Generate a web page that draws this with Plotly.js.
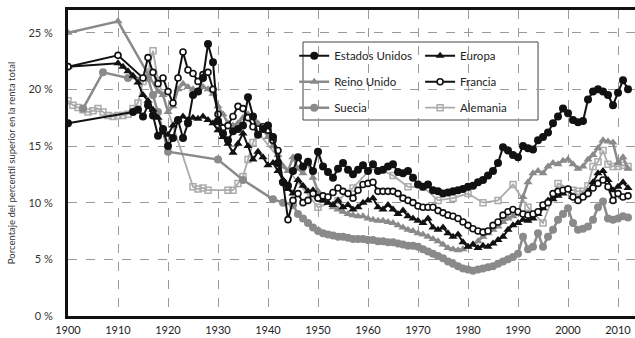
<!DOCTYPE html>
<html>
<head>
<meta charset="utf-8">
<script src="https://cdn.plot.ly/plotly-3.0.1.min.js"></script>
<style>html,body{margin:0;padding:0;background:#fff;}#chart{width:635px;height:338px;}</style>
</head>
<body>
<div id="chart"></div>
<script>
// ---- Data (top 1% income share, %) ----
const usYears = [1900,1913,1914,1915,1916,1917,1918,1919,1920,1921,1922,1923,1924,1925,1926,1927,1928,1929,1930,1931,1932,1933,1934,1935,1936,1937,1938,1939,1940,1941,1942,1943,1944,1945,1946,1947,1948,1949,1950,1951,1952,1953,1954,1955,1956,1957,1958,1959,1960,1961,1962,1963,1964,1965,1966,1967,1968,1969,1970,1971,1972,1973,1974,1975,1976,1977,1978,1979,1980,1981,1982,1983,1984,1985,1986,1987,1988,1989,1990,1991,1992,1993,1994,1995,1996,1997,1998,1999,2000,2001,2002,2003,2004,2005,2006,2007,2008,2009,2010,2011,2012];
const usShare = [17.0,18.0,18.2,17.6,18.6,17.7,15.9,16.5,15.0,15.7,17.3,15.7,17.0,19.5,19.8,21.0,24.0,22.4,17.2,16.1,15.5,16.3,16.5,16.8,19.3,17.6,16.0,16.5,16.8,15.8,13.5,11.8,11.5,12.8,14.0,13.2,13.6,12.8,14.5,13.2,12.7,12.2,13.0,13.5,12.9,12.5,12.9,13.3,12.8,13.4,12.8,12.9,13.2,13.4,12.7,12.6,12.8,12.2,11.6,11.4,11.6,11.1,11.0,10.8,10.9,11.0,11.1,11.2,11.4,11.5,11.8,12.0,12.4,12.8,13.5,14.9,14.6,14.2,14.0,15.0,14.8,14.7,15.5,15.8,16.2,17.0,17.6,18.3,17.9,17.3,17.1,17.2,19.1,19.8,20.0,19.8,19.5,18.6,19.7,20.8,20.0];

const euYears = [1900,1910,1911,1912,1913,1914,1915,1916,1917,1918,1919,1920,1921,1922,1923,1924,1925,1926,1927,1928,1929,1930,1931,1932,1933,1934,1935,1936,1937,1938,1939,1940,1941,1942,1943,1944,1945,1946,1947,1948,1949,1950,1951,1952,1953,1954,1955,1956,1957,1958,1959,1960,1961,1962,1963,1964,1965,1966,1967,1968,1969,1970,1971,1972,1973,1974,1975,1976,1977,1978,1979,1980,1981,1982,1983,1984,1985,1986,1987,1988,1989,1990,1991,1992,1993,1994,1995,1996,1997,1998,1999,2000,2001,2002,2003,2004,2005,2006,2007,2008,2009,2010,2011,2012];
const euShare = [22.0,22.3,22.0,21.6,21.2,20.6,19.5,19.0,18.2,17.5,16.2,16.0,16.8,17.3,17.6,17.3,17.5,17.4,17.6,17.3,17.0,16.4,15.8,15.2,14.4,15.2,16.1,15.0,13.8,14.5,14.0,13.3,13.5,12.8,12.0,11.2,10.8,12.0,11.5,11.0,11.1,10.5,10.2,10.0,9.8,10.2,9.6,9.8,9.4,9.6,10.0,10.2,10.4,9.6,9.4,9.8,9.4,9.0,9.3,8.8,8.6,8.4,8.2,8.6,7.8,7.6,7.8,7.3,7.0,7.2,6.5,6.1,6.3,6.0,6.2,6.1,6.4,6.7,7.0,7.6,8.0,8.2,8.5,8.4,8.6,9.0,9.5,10.2,10.3,10.6,10.8,11.2,10.5,10.3,10.6,11.0,11.8,12.6,12.8,12.0,11.1,11.4,11.8,11.3];

const frYears = [1900,1910,1915,1916,1917,1918,1919,1920,1921,1922,1923,1924,1925,1926,1927,1928,1929,1930,1931,1932,1933,1934,1935,1936,1937,1938,1939,1940,1941,1942,1943,1944,1945,1946,1947,1948,1949,1950,1951,1952,1953,1954,1955,1956,1957,1958,1959,1960,1961,1962,1963,1964,1965,1966,1967,1968,1969,1970,1971,1972,1973,1974,1975,1976,1977,1978,1979,1980,1981,1982,1983,1984,1985,1986,1987,1988,1989,1990,1991,1992,1993,1994,1995,1996,1997,1998,1999,2000,2001,2002,2003,2004,2005,2006,2007,2008,2009,2010,2011,2012];
const frShare = [22.0,23.0,21.0,22.8,21.5,20.5,21.0,19.8,18.8,21.0,23.3,21.7,21.4,20.7,21.3,21.5,20.0,17.8,16.6,16.8,17.6,18.5,18.3,17.5,16.7,16.5,16.7,16.4,15.5,14.6,11.8,8.5,10.2,10.8,10.0,10.2,10.8,10.4,10.6,10.5,10.9,11.3,11.0,10.8,10.4,11.1,11.6,11.7,11.8,11.0,11.0,11.0,11.0,10.8,10.4,10.2,10.0,9.7,9.6,9.6,9.6,9.3,9.1,8.9,8.8,8.6,8.3,8.0,7.7,7.5,7.4,7.5,8.0,8.3,8.9,9.2,9.4,9.2,9.0,8.9,9.0,9.2,9.8,10.0,10.8,11.0,11.1,11.2,10.5,10.2,10.5,10.8,11.3,11.7,12.0,11.4,10.2,10.8,10.5,10.6];

const ukYears = [1900,1910,1918,1919,1920,1921,1922,1923,1924,1925,1926,1927,1928,1929,1930,1931,1932,1933,1934,1935,1936,1937,1938,1939,1940,1941,1942,1943,1944,1945,1946,1947,1948,1949,1950,1951,1952,1953,1954,1955,1956,1957,1958,1959,1960,1961,1962,1963,1964,1965,1966,1967,1968,1969,1970,1971,1972,1973,1974,1975,1976,1977,1978,1979,1980,1981,1982,1983,1984,1985,1986,1987,1988,1989,1990,1991,1992,1993,1994,1995,1996,1997,1998,1999,2000,2001,2002,2003,2004,2005,2006,2007,2008,2009,2010,2011,2012];
const ukShare = [25.0,26.0,19.8,19.5,18.0,18.5,20.0,20.5,20.2,20.0,19.8,20.2,20.0,19.6,18.5,17.8,17.0,16.8,17.0,17.5,17.8,17.5,17.0,16.5,15.8,15.0,14.2,13.2,12.8,14.0,13.0,12.6,13.5,12.2,11.0,10.5,10.0,9.6,9.4,9.2,9.0,8.9,8.8,8.8,8.6,8.5,8.4,8.4,8.3,8.2,8.0,7.8,7.6,7.5,7.3,7.2,7.0,6.8,6.6,6.3,6.0,5.9,5.8,5.9,6.1,6.3,6.6,7.0,7.3,7.6,7.9,8.3,8.6,8.8,9.0,10.5,11.8,12.6,12.8,12.6,13.2,13.5,13.4,13.7,13.8,13.4,13.0,13.2,13.8,14.2,14.8,15.5,15.4,15.3,13.5,14.0,13.0];

const seYears = [1903,1907,1912,1916,1917,1918,1919,1920,1930,1935,1941,1943,1945,1946,1947,1948,1949,1950,1951,1952,1953,1954,1955,1956,1957,1958,1959,1960,1961,1962,1963,1964,1965,1966,1967,1968,1969,1970,1971,1972,1973,1974,1975,1976,1977,1978,1979,1980,1981,1982,1983,1984,1985,1986,1987,1988,1989,1990,1991,1992,1993,1994,1995,1996,1997,1998,1999,2000,2001,2002,2003,2004,2005,2006,2007,2008,2009,2010,2011,2012];
const seShare = [18.3,21.5,21.0,21.0,19.5,18.0,16.3,14.5,13.8,12.0,10.3,10.0,9.8,9.0,8.6,8.2,7.8,7.5,7.3,7.2,7.1,7.0,7.0,6.9,6.8,6.8,6.8,6.7,6.7,6.6,6.6,6.5,6.5,6.4,6.3,6.2,6.2,6.1,5.9,5.7,5.5,5.3,5.1,4.8,4.6,4.4,4.2,4.1,4.0,4.1,4.2,4.3,4.4,4.6,4.8,5.0,5.2,5.5,7.0,5.9,6.1,7.3,6.1,7.0,7.6,8.5,9.0,9.5,8.2,7.6,7.7,7.9,8.5,9.6,10.1,8.6,8.5,8.6,8.8,8.7];

const deYears = [1900,1901,1902,1903,1904,1905,1906,1907,1908,1909,1910,1911,1912,1913,1914,1915,1916,1917,1918,1925,1926,1927,1928,1932,1933,1934,1935,1936,1937,1938,1950,1954,1957,1961,1965,1968,1971,1974,1977,1980,1983,1986,1989,1992,1995,1998,2001,2002,2003,2004,2005,2006,2007,2008,2009,2010,2011,2012];
const deShare = [19.0,18.6,18.4,18.2,18.0,18.1,18.3,18.0,17.7,17.6,17.7,17.7,17.8,18.3,18.8,20.7,21.5,23.4,20.8,11.4,11.2,11.3,11.1,11.1,11.1,11.7,12.3,13.8,15.3,16.2,9.6,10.2,11.3,13.2,12.4,11.4,11.4,10.2,10.4,10.8,10.0,10.2,11.6,9.6,8.2,11.7,11.1,11.0,11.0,11.5,13.2,13.6,14.6,13.4,13.2,13.2,13.3,13.2];

const yTicks = [0,5,10,15,20,25];
const yTickLabels = ['0 %','5 %','10 %','15 %','20 %','25 %'];
const xTicks = [1900,1910,1920,1930,1940,1950,1960,1970,1980,1990,2000,2010];

// ---- Traces ----
const BLACK = '#111111', GRAY = '#8a8a8a', LIGHT = '#ababab';
function tr(name, x, y, line, marker, legend, rank) {
  return {type:'scatter', mode:'lines+markers', name, x, y, line, marker,
    legend, legendrank: rank, legendgroup: name, cliponaxis: true};
}
const traces = [
  tr('Alemania', deYears, deShare, {color:LIGHT, width:1.8},
     {symbol:'square-open', size:6, color:LIGHT, line:{width:1.5, color:LIGHT}}, 'legend2', 3),
  tr('Suecia', seYears, seShare, {color:GRAY, width:2.5},
     {symbol:'circle', size:8, color:GRAY}, 'legend', 3),
  tr('Reino Unido', ukYears, ukShare, {color:GRAY, width:2.5},
     {symbol:'triangle-up', size:8, color:GRAY}, 'legend', 2),
  tr('Europa', euYears, euShare, {color:BLACK, width:2},
     {symbol:'triangle-up', size:8, color:BLACK}, 'legend2', 1),
  tr('Francia', frYears, frShare, {color:BLACK, width:2},
     {symbol:'circle', size:6, color:'#ffffff', line:{width:1.6, color:BLACK}}, 'legend2', 2),
  tr('Estados Unidos', usYears, usShare, {color:BLACK, width:2},
     {symbol:'circle', size:8, color:BLACK}, 'legend', 1)
];

const FONT = 'Lato, "Open Sans", sans-serif';
const legendBase = {
  bgcolor:'rgba(0,0,0,0)', borderwidth:0, yanchor:'top', xanchor:'left',
  font:{family:FONT, size:11.5, color:'#222'}, tracegroupgap:7, traceorder:'grouped',
  itemclick:false, itemdoubleclick:false
};

const layout = {
  width:635, height:338,
  margin:{l:68, r:0, t:10, b:22},
  paper_bgcolor:'#fff', plot_bgcolor:'#fff',
  font:{family:FONT, color:'#333'},
  showlegend:true,
  legend: Object.assign({}, legendBase, {x:0.399, y:0.898}),
  legend2: Object.assign({}, legendBase, {x:0.621, y:0.898}),
  xaxis:{
    range:[1900, 2013.4], tickvals:xTicks, ticks:'', showgrid:true,
    gridcolor:'#9a9a9a', griddash:'dash', gridwidth:1,
    showline:true, linecolor:'#111', linewidth:3, mirror:true,
    zeroline:false, tickfont:{family:FONT, size:11, color:'#222'}, ticklabelstandoff:2
  },
  yaxis:{
    range:[0, 27], tickvals:yTicks, ticktext:yTickLabels, ticks:'', showgrid:true,
    gridcolor:'#9a9a9a', griddash:'dash', gridwidth:1,
    showline:true, linecolor:'#111', linewidth:3, mirror:false,
    zeroline:false, tickfont:{family:FONT, size:11, color:'#333'}, ticklabelstandoff:10,
    title:{text:'Porcentaje del percentil superior en la renta total',
      font:{family:FONT, size:9.5, color:'#333'}, standoff:12}
  },
  shapes:[{type:'rect', xref:'paper', yref:'paper', x0:0.4145, x1:0.829, y0:0.6405, y1:0.8954,
    fillcolor:'#ffffff', line:{color:'#444', width:1}, layer:'between'}]
};

Plotly.newPlot('chart', traces, layout, {staticPlot:true, displayModeBar:false});
</script>
</body>
</html>
